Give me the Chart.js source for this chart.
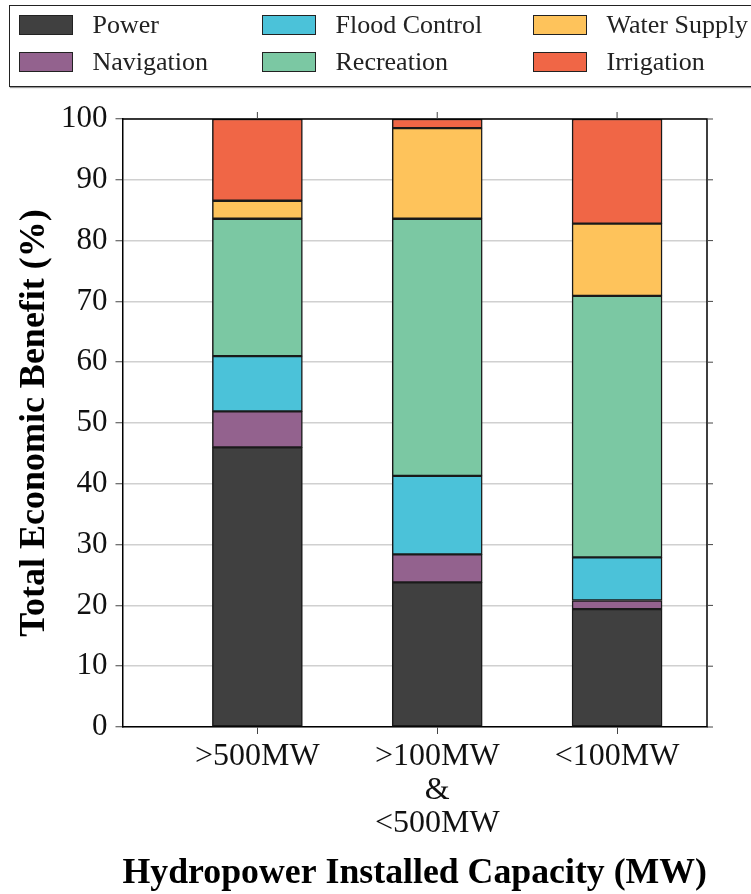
<!DOCTYPE html>
<html lang="en">
<head>
  <meta charset="UTF-8" />
  <title>Hydropower Economic Benefit</title>
  <script src="https://cdn.jsdelivr.net/npm/chart.js"></script>
  <style>
    * { margin: 0; padding: 0; box-sizing: border-box; }
    body { background: #fff; width: 751px; height: 894px; overflow: hidden; position: relative; }
    #legend {
      position: absolute;
      left: 9px;
      top: 5px;
      width: 760px;
      height: 82px;
      border: 1.5px solid #222;
      box-shadow: 1px 1px 1px #999;
      background: #fff;
      display: grid;
      grid-template-columns: 243px 271px auto;
      grid-template-rows: 37px 37px;
      grid-auto-flow: column;
      padding-left: 8.5px;
      font-family: 'Liberation Serif', 'Times New Roman', serif;
      font-size: 26px;
      color: #222;
      z-index: 2;
    }
    .item { display: flex; align-items: center; white-space: nowrap; }
    .swatch { width: 54px; height: 20px; border: 1.5px solid #222; margin-right: 20px; }
    canvas { position: absolute; left: 0; top: 0; }
  </style>
</head>
<body>
  <div id="legend"></div>
  <canvas id="chart" width="751" height="894"></canvas>

  <script>
    // capacity classes (x axis), multi-line labels
    const categories = [['>500MW'], ['>100MW', '&', '<500MW'], ['<100MW']];

    // share of total economic benefit (%) per class, bottom to top
    const power        = [46.0, 23.8, 19.4];
    const navigation   = [5.9, 4.6, 1.4];
    const floodControl = [9.1, 12.9, 7.1];
    const recreation   = [22.6, 42.3, 43.0];
    const waterSupply  = [2.95, 14.9, 11.9];
    const irrigation   = [13.45, 1.5, 17.2];

    const yTicks = [0, 10, 20, 30, 40, 50, 60, 70, 80, 90, 100];

    const series = [
      { name: 'Power', values: power, color: '#404040' },
      { name: 'Navigation', values: navigation, color: '#93628e' },
      { name: 'Flood Control', values: floodControl, color: '#4bc2d9' },
      { name: 'Recreation', values: recreation, color: '#7bc8a3' },
      { name: 'Water Supply', values: waterSupply, color: '#fec35b' },
      { name: 'Irrigation', values: irrigation, color: '#f06646' }
    ];

    const serif = "'Liberation Serif', 'Times New Roman', serif";

    // legend, filled column by column like the original
    const legend = document.getElementById('legend');
    series.forEach(s => {
      const item = document.createElement('div');
      item.className = 'item';
      item.innerHTML = '<span class="swatch" style="background:' + s.color + '"></span>' + s.name;
      legend.appendChild(item);
    });

    // frame on top/right with outward ticks
    const frame = {
      id: 'frame',
      afterDatasetsDraw(chart) {
        const { ctx, chartArea: a, scales: { x, y } } = chart;
        ctx.save();
        ctx.strokeStyle = '#000';
        ctx.lineWidth = 1.5;
        ctx.beginPath();
        ctx.moveTo(a.left, a.top);
        ctx.lineTo(a.right, a.top);
        ctx.lineTo(a.right, a.bottom);
        ctx.stroke();
        ctx.lineWidth = 1;
        ctx.strokeStyle = '#444';
        ctx.beginPath();
        x.ticks.forEach(t => {
          const px = x.getPixelForValue(t.value);
          ctx.moveTo(px, a.top);
          ctx.lineTo(px, a.top - 7);
        });
        y.ticks.forEach(t => {
          const py = y.getPixelForValue(t.value);
          ctx.moveTo(a.right, py);
          ctx.lineTo(a.right + 6, py);
        });
        ctx.stroke();
        ctx.restore();
      }
    };

    new Chart(document.getElementById('chart'), {
      type: 'bar',
      data: {
        datasets: series.map(s => ({
          label: s.name,
          data: s.values.map((v, i) => ({ x: i, y: v })),
          backgroundColor: s.color,
          borderColor: '#1a1a1a',
          borderWidth: 1.5,
          borderSkipped: false,
          barThickness: 90,
          stack: 'all'
        }))
      },
      options: {
        responsive: false,
        animation: false,
        layout: { padding: { left: 0, right: 44, top: 119, bottom: 0 } },
        plugins: { legend: { display: false }, tooltip: { enabled: false } },
        scales: {
          x: {
            type: 'linear',
            min: -0.75,
            max: 2.5,
            offset: false,
            afterBuildTicks: s => { s.ticks = categories.map((c, i) => ({ value: i })); },
            afterFit: s => { s.height = 167; },
            ticks: {
              autoSkip: false,
              maxRotation: 0,
              padding: 6,
              color: '#111',
              font: { family: serif, size: 32, lineHeight: 1.05 },
              callback: v => categories[v]
            },
            grid: { offset: false, drawOnChartArea: false, tickLength: 7, tickColor: '#444', tickWidth: 1 },
            border: { color: '#000', width: 1.5 },
            title: {
              display: true,
              text: 'Hydropower Installed Capacity (MW)',
              color: '#000',
              padding: { top: 0, bottom: 2 },
              font: { family: serif, size: 36, weight: 'bold', lineHeight: 1 }
            }
          },
          y: {
            stacked: true,
            min: 0,
            max: 100,
            afterBuildTicks: s => { s.ticks = yTicks.map(v => ({ value: v })); },
            afterFit: s => { s.width = 122.5; },
            ticks: {
              padding: 8,
              color: '#111',
              font: { family: serif, size: 31 }
            },
            grid: { color: '#d0d0d0', lineWidth: 1.5, tickLength: 7, tickColor: '#444', tickWidth: 1 },
            border: { color: '#000', width: 1.5 },
            title: {
              display: true,
              text: 'Total Economic Benefit (%)',
              color: '#000',
              padding: { top: 17, bottom: 0 },
              font: { family: serif, size: 36, weight: 'bold', lineHeight: 1 }
            }
          }
        }
      },
      plugins: [frame]
    });
  </script>
</body>
</html>
